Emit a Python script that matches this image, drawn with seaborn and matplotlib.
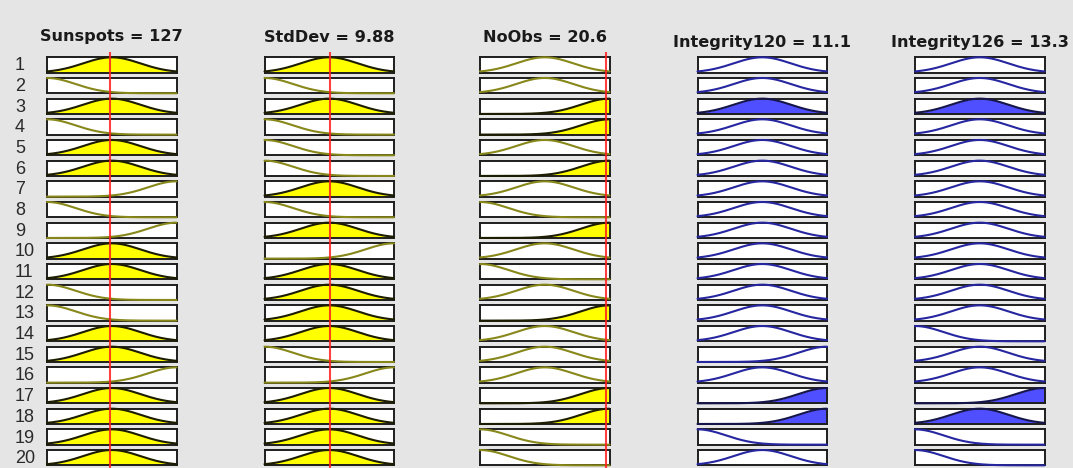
import numpy as np
import matplotlib
matplotlib.use("Agg")
import matplotlib.pyplot as plt
import seaborn as sns

# ---- rule base: membership term used by each rule (L = low, M = mid, H = high)
rules = list(range(1, 21))
sunspots_terms = ["M", "L", "M", "L", "M", "M", "H", "L", "H", "M",
                  "M", "L", "L", "M", "M", "H", "M", "M", "M", "M"]
stddev_terms = ["M", "L", "M", "L", "L", "L", "M", "L", "M", "H",
                "M", "M", "M", "M", "L", "H", "M", "M", "M", "M"]
noobs_terms = ["M", "M", "H", "H", "M", "H", "M", "L", "H", "M",
               "L", "M", "H", "M", "M", "M", "H", "H", "L", "L"]
integrity120_terms = ["M", "M", "M", "M", "M", "M", "M", "M", "M", "M",
                      "M", "M", "M", "M", "H", "M", "H", "H", "L", "M"]
integrity126_terms = ["M", "M", "M", "M", "M", "M", "M", "M", "M", "M",
                      "M", "M", "M", "L", "M", "M", "H", "M", "L", "L"]

input_names = ["Sunspots", "StdDev", "NoObs"]
input_values = [127, 9.88, 20.6]
input_ranges = [(0, 263), (0, 19.6), (0, 21.2)]

output_names = ["Integrity120", "Integrity126"]
output_values = [11.1, 13.3]
output_ranges = [(0, 25), (0, 25)]

input_terms = [sunspots_terms, stddev_terms, noobs_terms]
output_terms = [integrity120_terms, integrity126_terms]

# gaussian width of every term, as a fraction of the variable range
SIGMA_FRAC = 0.22


def membership(term, x, lo, hi):
    x = np.asarray(x, dtype=float)
    centre = {"L": lo, "M": (lo + hi) / 2, "H": hi}[term]
    sigma = SIGMA_FRAC * (hi - lo)
    return np.exp(-0.5 * ((x - centre) / sigma) ** 2)


# ---- firing strength of each rule (min of the input degrees)
degrees = []
for terms, val, (lo, hi) in zip(input_terms, input_values, input_ranges):
    degrees.append([float(membership(t, val, lo, hi)) for t in terms])
degrees = np.array(degrees)
firing = degrees.min(axis=0)

# ---- figure / layout (pixel geometry)
W, H = 1073, 468
sns.set_style("white")
plt.rcParams["font.family"] = ["DejaVu Sans"]
fig = plt.figure(figsize=(W / 100, H / 100), dpi=100)
bg = "#e5e5e5"
fig.patch.set_facecolor(bg)

col_left = [47, 264.5, 480, 697.5, 915]
box_w = 129.5
row_top0 = 57.3
row_pitch = 20.67
box_h = 15.3

in_line = "#87871a"
in_fill = "#ffff00"
in_edge = "#1c1c00"
out_line = "#2626a0"
out_fill = "#4f4fff"
out_edge = "#15154a"
frame_col = "#1e1e1e"
FILL_MIN = 0.2


def add_box(ci, ri):
    top = row_top0 + ri * row_pitch
    ax = fig.add_axes([col_left[ci] / W, 1 - (top + box_h) / H, box_w / W, box_h / H])
    ax.set_facecolor("white")
    for s in ax.spines.values():
        s.set_color(frame_col)
        s.set_linewidth(1.4)
        s.set_visible(True)
    ax.set_xticks([])
    ax.set_yticks([])
    return ax


def draw_mf(ax, term, lo, hi, level, line_c, fill_c, edge_c):
    xs = np.linspace(lo, hi, 301)
    mu = membership(term, xs, lo, hi)
    filled = level > FILL_MIN
    if filled:
        ax.fill_between(xs, 0, np.minimum(mu, level), color=fill_c, lw=0, zorder=1)
    sns.lineplot(x=xs, y=mu, ax=ax, color=edge_c if filled else line_c,
                 lw=1.5, legend=False, zorder=3, clip_on=False)
    ax.set_xlim(lo, hi)
    ax.set_ylim(0, 1)
    ax.set_xlabel("")
    ax.set_ylabel("")


# input columns
for ci, (terms, (lo, hi)) in enumerate(zip(input_terms, input_ranges)):
    for ri, t in enumerate(terms):
        ax = add_box(ci, ri)
        draw_mf(ax, t, lo, hi, degrees[ci, ri], in_line, in_fill, in_edge)

# output columns
for oi, (terms, (lo, hi)) in enumerate(zip(output_terms, output_ranges)):
    ci = 3 + oi
    for ri, t in enumerate(terms):
        ax = add_box(ci, ri)
        draw_mf(ax, t, lo, hi, firing[ri], out_line, out_fill, out_edge)

# input value markers
line_top = 51.5
for ci, (val, (lo, hi)) in enumerate(zip(input_values, input_ranges)):
    ov = fig.add_axes([col_left[ci] / W, 0, box_w / W, 1 - line_top / H])
    ov.patch.set_alpha(0)
    ov.set_xlim(lo, hi)
    ov.set_ylim(0, 1)
    ov.axvline(val, color="#ff1e1e", lw=1.5, alpha=0.85)
    ov.axis("off")

# column titles
title_y = [37, 37, 37, 42, 42]
labels = [f"{n} = {v:g}" for n, v in zip(input_names, input_values)] + \
         [f"{n} = {v:g}" for n, v in zip(output_names, output_values)]
for ci, lab in enumerate(labels):
    cx = col_left[ci] + box_w / 2
    fig.text(cx / W, 1 - title_y[ci] / H, lab, ha="center", va="center",
             fontsize=11.6, fontweight="bold", color="#1a1a1a")

# rule numbers
for ri, r in enumerate(rules):
    cy = row_top0 + ri * row_pitch + box_h / 2 + 1.0
    fig.text(15 / W, 1 - cy / H, str(r), ha="left", va="center",
             fontsize=13, family=["Liberation Sans", "DejaVu Sans"], color="#2a2a2a")

fig.savefig("out.png", dpi=100, facecolor=bg)
